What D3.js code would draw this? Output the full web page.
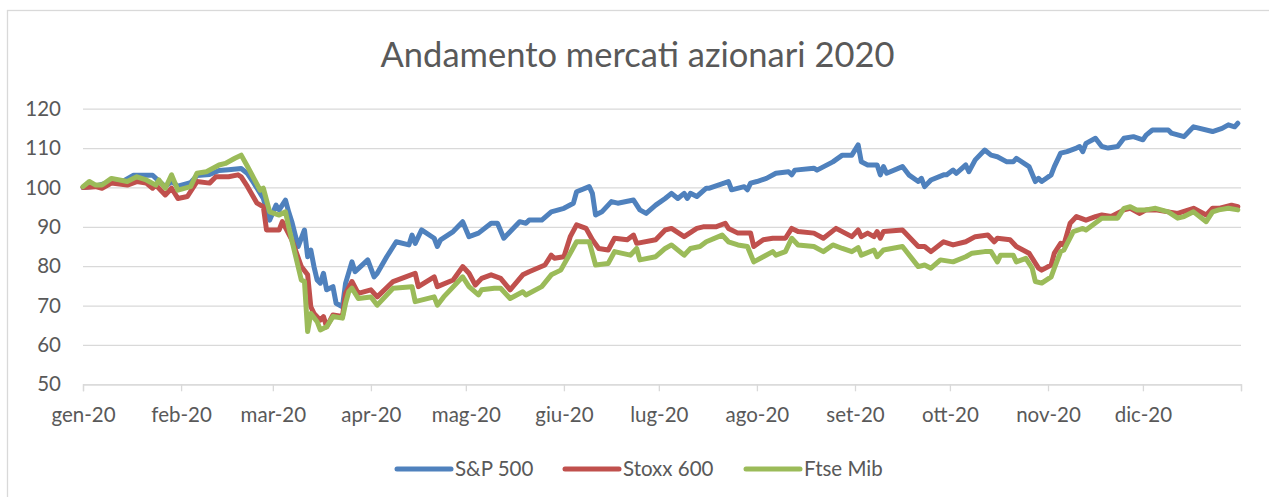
<!DOCTYPE html>
<html>
<head>
<meta charset="utf-8">
<script src="https://d3js.org/d3.v7.min.js"></script>
<style>
  body { margin: 0; background: #fff; }
  text { font-family: Lato, "Open Sans", sans-serif; fill: #595959; }
</style>
</head>
<body>
<div id="chart"></div>
<script>
// month labels on the x axis and values on the y axis
var monthLabels = ["gen-20","feb-20","mar-20","apr-20","mag-20","giu-20",
                   "lug-20","ago-20","set-20","ott-20","nov-20","dic-20"];
var yTicks = [50, 60, 70, 80, 90, 100, 110, 120];
var seriesNames = ["S&P 500", "Stoxx 600", "Ftse Mib"];
var seriesColors = ["#4f81bd", "#c0504d", "#9bbb59"];

// S&P 500 (base 100 = 1 gen)
var sp500 = [
  ["2020-01-01",100],["2020-01-05",100.3],["2020-01-10",101.5],["2020-01-13",101.3],
  ["2020-01-17",103.1],["2020-01-23",103.1],["2020-01-25",101.6],["2020-01-27",100.2],
  ["2020-01-29",101.5],["2020-01-31",100.3],["2020-02-04",101.2],["2020-02-06",103],
  ["2020-02-10",103.3],["2020-02-13",104.3],["2020-02-16",104.5],["2020-02-20",104.8],
  ["2020-02-22",103.5],["2020-02-24",101.1],["2020-02-27",97.2],["2020-02-29",91.7],
  ["2020-03-02",95.5],["2020-03-03",94.3],["2020-03-05",96.8],["2020-03-06",93.8],
  ["2020-03-07",91.3],["2020-03-09",85],["2020-03-11",89.2],["2020-03-12",82.4],
  ["2020-03-13",84.1],["2020-03-14",79.9],["2020-03-15",76.5],["2020-03-16",75.7],
  ["2020-03-17",78.2],["2020-03-18",74],["2020-03-20",74.8],["2020-03-21",70.6],
  ["2020-03-23",69.7],["2020-03-24",75.7],["2020-03-26",81.1],["2020-03-27",78.6],
  ["2020-03-31",81.6],["2020-04-02",77.3],["2020-04-03",78.2],["2020-04-06",82.4],
  ["2020-04-09",86.2],["2020-04-13",85.4],["2020-04-14",87.9],["2020-04-15",85.8],
  ["2020-04-17",89.2],["2020-04-21",87.1],["2020-04-22",85],["2020-04-23",86.7],
  ["2020-04-27",88.8],["2020-04-30",91.3],["2020-05-02",87.5],["2020-05-05",88.4],
  ["2020-05-09",90.9],["2020-05-11",90.9],["2020-05-13",87.1],["2020-05-18",91.3],
  ["2020-05-20",90.9],["2020-05-21",91.7],["2020-05-25",91.7],["2020-05-28",93.8],
  ["2020-06-01",94.7],["2020-06-04",96],["2020-06-05",98.9],["2020-06-09",100.2],
  ["2020-06-10",98.5],["2020-06-11",93],["2020-06-13",93.8],["2020-06-16",96.4],
  ["2020-06-18",96],["2020-06-23",96.8],["2020-06-25",94.3],["2020-06-27",93.4],
  ["2020-06-30",95.5],["2020-07-03",97.2],["2020-07-05",98.5],["2020-07-07",97.2],
  ["2020-07-09",98.5],["2020-07-10",97.2],["2020-07-11",98.5],["2020-07-13",97.7],
  ["2020-07-16",99.8],["2020-07-17",99.8],["2020-07-23",101.5],["2020-07-24",99.4],
  ["2020-07-28",100.2],["2020-07-29",99.4],["2020-07-30",101.1],["2020-08-01",101.5],
  ["2020-08-04",102.3],["2020-08-07",103.6],["2020-08-11",104],["2020-08-12",103.2],
  ["2020-08-13",104.4],["2020-08-19",104.9],["2020-08-20",104.4],["2020-08-25",106.5],
  ["2020-08-28",108.2],["2020-08-31",108.2],["2020-09-02",110.8],["2020-09-03",106.5],
  ["2020-09-05",105.7],["2020-09-08",105.7],["2020-09-09",103.2],["2020-09-10",105.3],
  ["2020-09-11",103.6],["2020-09-16",105.3],["2020-09-18",103.2],["2020-09-21",101.5],
  ["2020-09-22",102.3],["2020-09-23",100.2],["2020-09-25",101.9],["2020-09-29",103.2],
  ["2020-09-30",103.2],["2020-10-02",104.4],["2020-10-03",103.6],["2020-10-06",105.7],
  ["2020-10-07",104],["2020-10-09",107],["2020-10-12",109.5],["2020-10-14",108.2],
  ["2020-10-16",107.8],["2020-10-19",106.5],["2020-10-21",106.5],["2020-10-22",107.4],
  ["2020-10-26",105.3],["2020-10-28",101.5],["2020-10-29",102.3],["2020-10-30",101.5],
  ["2020-11-02",103.2],["2020-11-03",105.3],["2020-11-05",108.7],["2020-11-07",109.1],
  ["2020-11-10",110],["2020-11-11",110.4],["2020-11-12",109.1],["2020-11-13",111.2],
  ["2020-11-16",112.5],["2020-11-18",110.4],["2020-11-20",110],["2020-11-23",110.4],
  ["2020-11-25",112.5],["2020-11-28",112.9],["2020-12-01",112.1],["2020-12-02",113.3],
  ["2020-12-04",114.6],["2020-12-09",114.6],["2020-12-10",113.8],["2020-12-14",112.9],
  ["2020-12-16",114.6],["2020-12-17",115.4],["2020-12-23",114.2],["2020-12-26",115],
  ["2020-12-28",115.9],["2020-12-30",115.4],["2020-12-31",116.3]
];

// Stoxx 600
var stoxx600 = [
  ["2020-01-01",100],["2020-01-05",100.2],["2020-01-07",99.8],["2020-01-10",101.1],
  ["2020-01-15",100.6],["2020-01-18",101.5],["2020-01-21",101.1],["2020-01-23",99.8],
  ["2020-01-24",100.6],["2020-01-27",98.1],["2020-01-29",99.8],["2020-01-31",97.2],
  ["2020-02-03",97.7],["2020-02-06",101.5],["2020-02-10",101.1],["2020-02-12",102.7],
  ["2020-02-16",102.7],["2020-02-19",103.2],["2020-02-20",102.7],["2020-02-22",100.2],
  ["2020-02-25",96],["2020-02-27",95.1],["2020-02-28",89.2],["2020-03-03",89.2],
  ["2020-03-04",91.3],["2020-03-07",86.7],["2020-03-10",79.9],["2020-03-12",77.8],
  ["2020-03-13",69.7],["2020-03-14",68],["2020-03-16",66.3],["2020-03-17",67.2],
  ["2020-03-18",64.6],["2020-03-20",67.6],["2020-03-23",67.2],["2020-03-24",73.1],
  ["2020-03-26",76.1],["2020-03-28",73.1],["2020-04-01",74],["2020-04-03",72.2],
  ["2020-04-08",76.1],["2020-04-12",77.3],["2020-04-15",78.2],["2020-04-16",74.8],
  ["2020-04-21",77.3],["2020-04-22",74.8],["2020-04-27",76.5],["2020-04-30",79.9],
  ["2020-05-02",78.2],["2020-05-04",75.2],["2020-05-06",76.9],["2020-05-09",77.8],
  ["2020-05-12",76.9],["2020-05-15",74],["2020-05-19",77.8],["2020-05-21",78.6],
  ["2020-05-26",80.3],["2020-05-28",82.8],["2020-05-29",82],["2020-06-01",82.4],
  ["2020-06-03",87.5],["2020-06-05",90.5],["2020-06-08",89.6],["2020-06-10",86.7],
  ["2020-06-12",84.5],["2020-06-15",84.1],["2020-06-17",87.1],["2020-06-21",86.7],
  ["2020-06-23",87.9],["2020-06-24",85.8],["2020-06-30",86.7],["2020-07-03",89.2],
  ["2020-07-05",89.6],["2020-07-09",87.5],["2020-07-13",89.6],["2020-07-15",90],
  ["2020-07-19",90],["2020-07-22",90.9],["2020-07-23",89.6],["2020-07-26",88.4],
  ["2020-07-30",88.4],["2020-07-31",85],["2020-08-03",86.7],["2020-08-06",87.1],
  ["2020-08-10",87.1],["2020-08-12",89.6],["2020-08-14",88.8],["2020-08-19",88.4],
  ["2020-08-22",87.1],["2020-08-26",89.6],["2020-08-31",87.5],["2020-09-02",89.2],
  ["2020-09-03",87.5],["2020-09-05",88.4],["2020-09-07",87.5],["2020-09-08",88.8],
  ["2020-09-09",87.1],["2020-09-10",88.8],["2020-09-16",89.2],["2020-09-21",85],
  ["2020-09-23",85],["2020-09-25",83.7],["2020-09-29",86.2],["2020-10-02",85.4],
  ["2020-10-06",86.2],["2020-10-09",87.5],["2020-10-13",87.9],["2020-10-15",86.2],
  ["2020-10-16",87.1],["2020-10-20",86.7],["2020-10-22",85],["2020-10-26",83.3],
  ["2020-10-29",79.5],["2020-10-30",79],["2020-11-02",80.3],["2020-11-03",83.3],
  ["2020-11-05",85.8],["2020-11-06",85.4],["2020-11-08",90.9],["2020-11-10",92.6],
  ["2020-11-13",91.7],["2020-11-16",92.6],["2020-11-18",93],["2020-11-21",92.6],
  ["2020-11-25",94.3],["2020-11-27",94.7],["2020-11-30",93.4],["2020-12-02",94.3],
  ["2020-12-05",94.3],["2020-12-09",93.8],["2020-12-12",93.4],["2020-12-17",94.7],
  ["2020-12-21",93],["2020-12-23",94.7],["2020-12-25",94.7],["2020-12-29",95.5],
  ["2020-12-31",95.1]
];

// Ftse Mib
var ftseMib = [
  ["2020-01-01",100.2],["2020-01-03",101.5],["2020-01-05",100.6],["2020-01-07",100.6],
  ["2020-01-10",102.3],["2020-01-15",101.5],["2020-01-18",102.7],["2020-01-21",101.9],
  ["2020-01-24",100.6],["2020-01-25",101.9],["2020-01-27",99.8],["2020-01-29",103.2],
  ["2020-01-31",99.3],["2020-02-04",100.2],["2020-02-06",103.6],["2020-02-09",104],
  ["2020-02-13",105.7],["2020-02-15",106.1],["2020-02-18",107.4],["2020-02-20",108.2],
  ["2020-02-22",105.3],["2020-02-24",102.3],["2020-02-26",99.3],["2020-02-27",99.8],
  ["2020-02-29",93.8],["2020-03-03",93],["2020-03-05",93.8],["2020-03-06",90],
  ["2020-03-10",76.5],["2020-03-11",76.1],["2020-03-12",63.4],["2020-03-13",68],
  ["2020-03-15",65.9],["2020-03-16",63.8],["2020-03-18",64.6],["2020-03-20",67.2],
  ["2020-03-23",66.8],["2020-03-24",70.6],["2020-03-25",73.5],["2020-03-26",74.4],
  ["2020-03-28",71.8],["2020-04-01",72.2],["2020-04-03",70.1],["2020-04-08",74.4],
  ["2020-04-14",74.8],["2020-04-15",71],["2020-04-21",72.2],["2020-04-22",70.1],
  ["2020-04-24",72.2],["2020-04-30",77.3],["2020-05-02",74.8],["2020-05-05",72.7],
  ["2020-05-06",74],["2020-05-10",74.4],["2020-05-12",74.4],["2020-05-15",71.8],
  ["2020-05-19",73.5],["2020-05-20",72.7],["2020-05-25",74.8],["2020-05-28",77.8],
  ["2020-05-31",79],["2020-06-03",83.3],["2020-06-05",86.2],["2020-06-09",86.2],
  ["2020-06-11",80.3],["2020-06-15",80.7],["2020-06-17",83.7],["2020-06-22",82.8],
  ["2020-06-24",84.5],["2020-06-25",81.6],["2020-06-30",82.4],["2020-07-03",84.5],
  ["2020-07-05",85.4],["2020-07-09",82.8],["2020-07-11",84.5],["2020-07-14",85],
  ["2020-07-16",86.2],["2020-07-21",87.9],["2020-07-23",86.2],["2020-07-26",85.4],
  ["2020-07-29",85],["2020-07-31",81.1],["2020-08-03",82.4],["2020-08-06",83.7],
  ["2020-08-07",82.8],["2020-08-10",83.7],["2020-08-12",87.1],["2020-08-14",85.4],
  ["2020-08-19",85],["2020-08-22",83.7],["2020-08-25",85.4],["2020-08-28",84.5],
  ["2020-08-31",83.7],["2020-09-02",84.7],["2020-09-03",82.8],["2020-09-07",84.1],
  ["2020-09-08",82.4],["2020-09-10",84.1],["2020-09-16",85],["2020-09-21",79.9],
  ["2020-09-23",80.3],["2020-09-25",79.5],["2020-09-28",81.6],["2020-10-02",81.1],
  ["2020-10-06",82.4],["2020-10-08",83.3],["2020-10-12",83.7],["2020-10-14",83.7],
  ["2020-10-16",81.1],["2020-10-17",82.8],["2020-10-21",82.8],["2020-10-22",81.1],
  ["2020-10-25",82],["2020-10-27",79.5],["2020-10-28",76.1],["2020-10-30",75.7],
  ["2020-11-02",77.3],["2020-11-03",79.5],["2020-11-05",83.7],["2020-11-06",84.1],
  ["2020-11-09",88.8],["2020-11-12",89.6],["2020-11-13",89.2],["2020-11-18",92.2],
  ["2020-11-20",92.2],["2020-11-23",92.2],["2020-11-25",94.7],["2020-11-27",95.1],
  ["2020-11-29",94.3],["2020-12-02",94.3],["2020-12-05",94.7],["2020-12-09",93.8],
  ["2020-12-12",92.2],["2020-12-14",92.6],["2020-12-17",93.8],["2020-12-21",91.3],
  ["2020-12-23",93.8],["2020-12-25",94.3],["2020-12-28",94.7],["2020-12-31",94.3]
];

var allSeries = [sp500, stoxx600, ftseMib];

// set the dimensions and margins of the graph
var W = 1269, H = 497;
var margin = {top: 108.7, right: 28, bottom: 112.7, left: 83},
    width = W - margin.left - margin.right,
    height = H - margin.top - margin.bottom;

var parseDate = d3.timeParse("%Y-%m-%d");

var svg = d3.select("#chart")
  .append("svg")
    .attr("width", W)
    .attr("height", H);

// chart border
svg.append("rect")
    .attr("x", 7.5)
    .attr("y", 10.5)
    .attr("width", W)
    .attr("height", H)
    .attr("fill", "none")
    .attr("stroke", "#d9d9d9")
    .attr("stroke-width", 1.3);

// title
svg.append("text")
    .attr("x", 637.5)
    .attr("y", 67)
    .attr("text-anchor", "middle")
    .style("font-size", "34.5px")
    .text("Andamento mercati azionari 2020");

var g = svg.append("g")
    .attr("transform", "translate(" + margin.left + "," + margin.top + ")");

var x = d3.scaleTime()
    .domain([new Date(2020, 0, 1), new Date(2021, 0, 1)])
    .range([0, width]);

var y = d3.scaleLinear()
    .domain([50, 120])
    .range([height, 0]);

// gridlines
g.append("g")
    .call(d3.axisLeft(y).tickValues(yTicks).tickSize(-width).tickFormat(""))
    .call(function(a) { a.select(".domain").remove(); })
    .selectAll("line")
      .attr("stroke", "#d9d9d9")
      .attr("stroke-width", 1.3);

// y labels
g.append("g")
    .call(d3.axisLeft(y).tickValues(yTicks).tickSize(0).tickPadding(22))
    .call(function(a) { a.select(".domain").remove(); })
    .selectAll("text")
      .style("font-size", "20.5px")
      .style("fill", "#595959");

// x axis with a tick at every month start
var monthTicks = d3.timeMonth.range(new Date(2020, 0, 1), new Date(2021, 0, 2));
g.append("g")
    .attr("transform", "translate(0," + height + ")")
    .call(d3.axisBottom(x).tickValues(monthTicks).tickSize(7).tickPadding(16)
      .tickFormat(function(d, i) { return monthLabels[i] || ""; }))
    .call(function(a) {
      a.select(".domain").attr("stroke", "#d9d9d9").attr("stroke-width", 1.3);
      a.selectAll("line").attr("stroke", "#d9d9d9").attr("stroke-width", 1.3);
    })
    .selectAll("text")
      .style("font-size", "20.5px")
      .style("fill", "#595959");

// lines
var line = d3.line()
    .x(function(d) { return x(parseDate(d[0])); })
    .y(function(d) { return y(d[1]); });

allSeries.forEach(function(s, i) {
  g.append("path")
      .datum(s)
      .attr("fill", "none")
      .attr("stroke", seriesColors[i])
      .attr("stroke-width", 5)
      .attr("stroke-linejoin", "round")
      .attr("stroke-linecap", "round")
      .attr("d", line);
});

// legend
var legendX = [397, 565, 746];
var legend = svg.append("g").attr("transform", "translate(0,469)");
seriesNames.forEach(function(name, i) {
  legend.append("line")
      .attr("x1", legendX[i]).attr("x2", legendX[i] + 54)
      .attr("y1", 0).attr("y2", 0)
      .attr("stroke", seriesColors[i])
      .attr("stroke-width", 5)
      .attr("stroke-linecap", "round");
  legend.append("text")
      .attr("x", legendX[i] + 58)
      .attr("y", 0)
      .attr("dy", "0.35em")
      .style("font-size", "20.5px")
      .text(name);
});
</script>
</body>
</html>
